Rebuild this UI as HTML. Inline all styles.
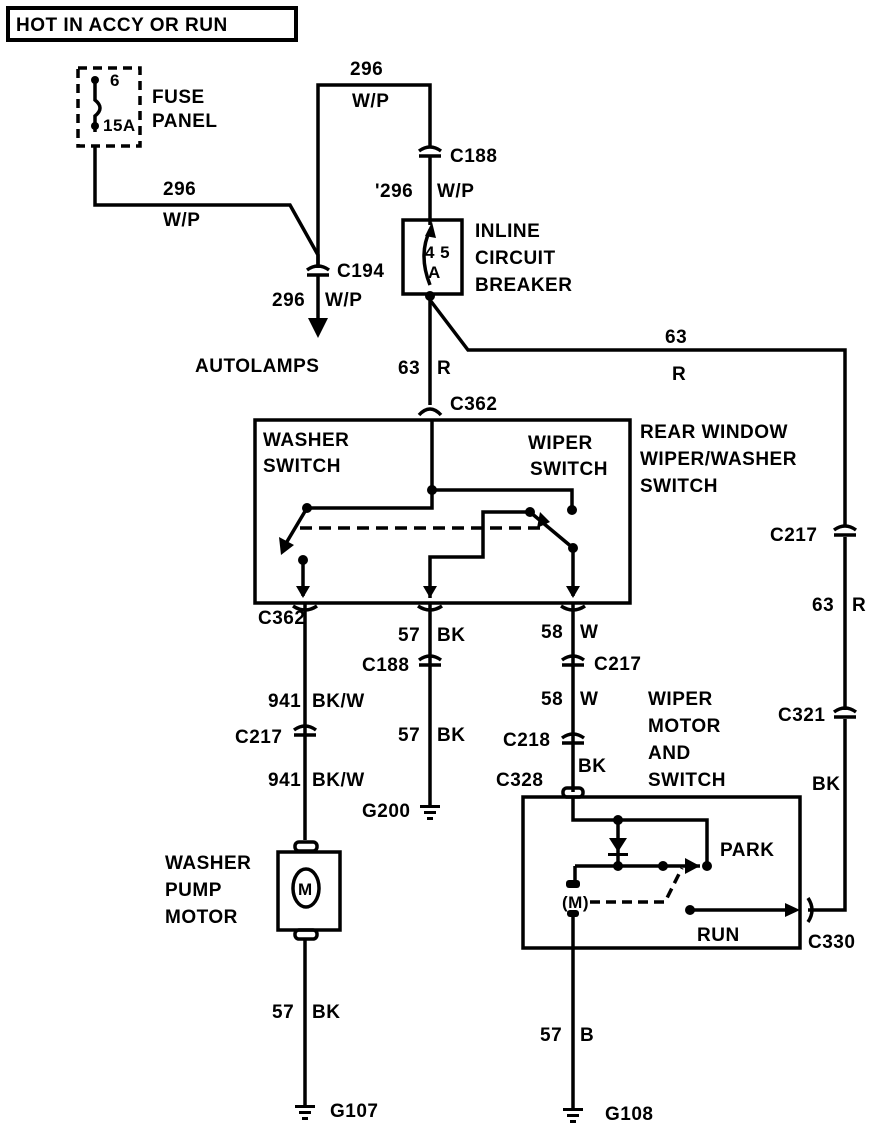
<!DOCTYPE html>
<html><head><meta charset="utf-8"><style>
body{margin:0;background:#fff}
svg{display:block}
text{font-family:"Liberation Sans",sans-serif;font-size:19px;font-weight:bold;fill:#000;letter-spacing:0.5px}
</style></head><body>
<svg width="880" height="1136" viewBox="0 0 880 1136" xmlns="http://www.w3.org/2000/svg">
<g fill="none" stroke="#000" stroke-width="3.5">
<rect x="8" y="8" width="288" height="32" stroke-width="4"/>
<rect x="78" y="68" width="62" height="78" stroke-dasharray="9,6"/>
<path d="M95 80 V100 Q105 108 95 116 V132"/>
<path d="M95 146 V205 H290 L318 255 V268"/>
<path d="M318 274 V322"/>
<path d="M318 268 V85 H430 V148"/>
<path d="M430 156 V225"/>
<path d="M307 270 Q318 262 329 270"/><path d="M307 275 H329"/>
<path d="M419 151 Q430 143 441 151"/><path d="M419 156 H441"/>
<rect x="403" y="220" width="59" height="74"/>
<path d="M430 230 Q418 255 430 285"/>
<path d="M430 294 V405"/>
<path d="M430 300 L468 350 H845 V527"/>
<path d="M419 415 Q430 403 441 415"/>
<path d="M432 420 V490"/>
<rect x="255" y="420" width="375" height="183"/>
<path d="M432 490 H572 V510"/>
<path d="M432 490 V508 H307 L285 545"/>
<path d="M300 528 H545" stroke-dasharray="12,7"/>
<path d="M303 560 V596"/>
<path d="M430 598 V557 H483 V512 H530 L573 548 V596"/>
<path d="M305 603 V840"/>
<path d="M430 603 V805"/>
<path d="M573 603 V792"/>
<path d="M293 606 Q305 614 317 606"/>
<path d="M418 606 Q430 614 442 606"/>
<path d="M561 606 Q573 614 585 606"/>
<path d="M834 530 Q845 522 856 530"/><path d="M834 535 H856"/>
<path d="M845 537 V710"/>
<path d="M834 712 Q845 704 856 712"/><path d="M834 717 H856"/>
<path d="M845 719 V910 H808"/>
<path d="M294 730 Q305 722 316 730"/><path d="M294 735 H316"/>
<path d="M419 660 Q430 652 441 660"/><path d="M419 665 H441"/>
<path d="M562 660 Q573 652 584 660"/><path d="M562 665 H584"/>
<path d="M562 738 Q573 730 584 738"/><path d="M562 743 H584"/>
<rect x="278" y="852" width="62" height="78"/>
<rect x="295" y="842" width="22" height="9" rx="4"/>
<rect x="295" y="930" width="22" height="9" rx="4"/>
<ellipse cx="306" cy="888" rx="13" ry="19"/>
<path d="M305 939 V1105"/>
<rect x="523" y="797" width="277" height="151"/>
<rect x="563" y="788" width="20" height="9" rx="4"/>
<path d="M573 797 V820 H707 V864"/>
<path d="M618 820 V866"/>
<path d="M575 866 H700"/>
<path d="M575 866 V882"/>
<path d="M590 902 H665 L682 868" stroke-dasharray="10,6"/>
<path d="M690 910 H795"/>
<path d="M808 898 Q816 910 808 922"/>
<path d="M573 915 V1108"/>
</g>
<g fill="#000" stroke="none">
<circle cx="95" cy="80" r="4"/><circle cx="95" cy="126" r="4"/>
<path d="M308 318 H328 L318 338 Z"/>
<path d="M425 236 L432 222 L436 238 Z"/>
<circle cx="430" cy="296" r="5"/>
<circle cx="432" cy="490" r="5"/><circle cx="572" cy="510" r="5"/><circle cx="307" cy="508" r="5"/>
<path d="M279 537 L294 545 L281 555 Z"/>
<circle cx="303" cy="560" r="5"/><circle cx="530" cy="512" r="5"/><circle cx="573" cy="548" r="5"/>
<path d="M540 512 L550 522 L537 528 Z"/>
<path d="M296 586 L310 586 L303 598 Z"/>
<path d="M423 586 L437 586 L430 598 Z"/>
<path d="M566 586 L580 586 L573 598 Z"/>
<circle cx="618" cy="820" r="5"/><circle cx="618" cy="866" r="5"/>
<path d="M609 838 H627 L618 852 Z"/><rect x="608" y="853" width="20" height="3"/>
<circle cx="663" cy="866" r="5"/><circle cx="707" cy="866" r="5"/>
<path d="M685 858 L700 866 L685 874 Z"/>
<circle cx="690" cy="910" r="5"/>
<path d="M785 903 L800 910 L785 917 Z"/>
<rect x="420" y="805" width="20" height="3"/><rect x="424" y="811" width="12" height="3"/><rect x="427" y="817" width="6" height="3"/>
<rect x="295" y="1105" width="20" height="3"/><rect x="299" y="1111" width="12" height="3"/><rect x="302" y="1117" width="6" height="3"/>
<rect x="563" y="1108" width="20" height="3"/><rect x="567" y="1114" width="12" height="3"/><rect x="570" y="1120" width="6" height="3"/>
<rect x="566" y="880" width="14" height="8" rx="3"/>
<rect x="567" y="910" width="12" height="7" rx="3"/>
</g>
<text x="16" y="31">HOT IN ACCY OR RUN</text>
<text x="110" y="86" style="font-size:17px">6</text>
<text x="103" y="131" style="font-size:17px">15A</text>
<text x="152" y="103">FUSE</text><text x="152" y="127">PANEL</text>
<text x="163" y="195">296</text><text x="163" y="226">W/P</text>
<text x="350" y="75">296</text><text x="352" y="107">W/P</text>
<text x="450" y="162">C188</text>
<text x="375" y="197">'296</text><text x="437" y="197">W/P</text>
<text x="425" y="258" style="font-size:17px">4 5</text><text x="428" y="278" style="font-size:17px">A</text>
<text x="475" y="237">INLINE</text><text x="475" y="264">CIRCUIT</text><text x="475" y="291">BREAKER</text>
<text x="337" y="277">C194</text>
<text x="272" y="306">296</text><text x="325" y="306">W/P</text>
<text x="195" y="372">AUTOLAMPS</text>
<text x="398" y="374">63</text><text x="437" y="374">R</text>
<text x="665" y="343">63</text><text x="672" y="380">R</text>
<text x="450" y="410">C362</text>
<text x="263" y="446">WASHER</text><text x="263" y="472">SWITCH</text>
<text x="528" y="449">WIPER</text><text x="530" y="475">SWITCH</text>
<text x="640" y="438">REAR WINDOW</text><text x="640" y="465">WIPER/WASHER</text><text x="640" y="492">SWITCH</text>
<text x="770" y="541">C217</text>
<text x="812" y="611">63</text><text x="852" y="611">R</text>
<text x="778" y="721">C321</text>
<text x="812" y="790">BK</text>
<text x="258" y="624">C362</text>
<text x="398" y="641">57</text><text x="437" y="641">BK</text>
<text x="541" y="638">58</text><text x="580" y="638">W</text>
<text x="362" y="671">C188</text>
<text x="594" y="670">C217</text>
<text x="268" y="707">941</text><text x="312" y="707">BK/W</text>
<text x="541" y="705">58</text><text x="580" y="705">W</text>
<text x="235" y="743">C217</text>
<text x="398" y="741">57</text><text x="437" y="741">BK</text>
<text x="503" y="746">C218</text>
<text x="578" y="772">BK</text>
<text x="268" y="786">941</text><text x="312" y="786">BK/W</text>
<text x="496" y="786">C328</text>
<text x="648" y="705">WIPER</text><text x="648" y="732">MOTOR</text><text x="648" y="759">AND</text><text x="648" y="786">SWITCH</text>
<text x="362" y="817">G200</text>
<text x="165" y="869">WASHER</text><text x="165" y="896">PUMP</text><text x="165" y="923">MOTOR</text>
<text x="298" y="895" style="font-size:17px">M</text>
<text x="720" y="856">PARK</text>
<text x="562" y="908" style="font-size:17px">(M)</text>
<text x="697" y="941">RUN</text>
<text x="808" y="948">C330</text>
<text x="272" y="1018">57</text><text x="312" y="1018">BK</text>
<text x="540" y="1041">57</text><text x="580" y="1041">B</text>
<text x="330" y="1117">G107</text>
<text x="605" y="1120">G108</text>
</svg>
</body></html>
